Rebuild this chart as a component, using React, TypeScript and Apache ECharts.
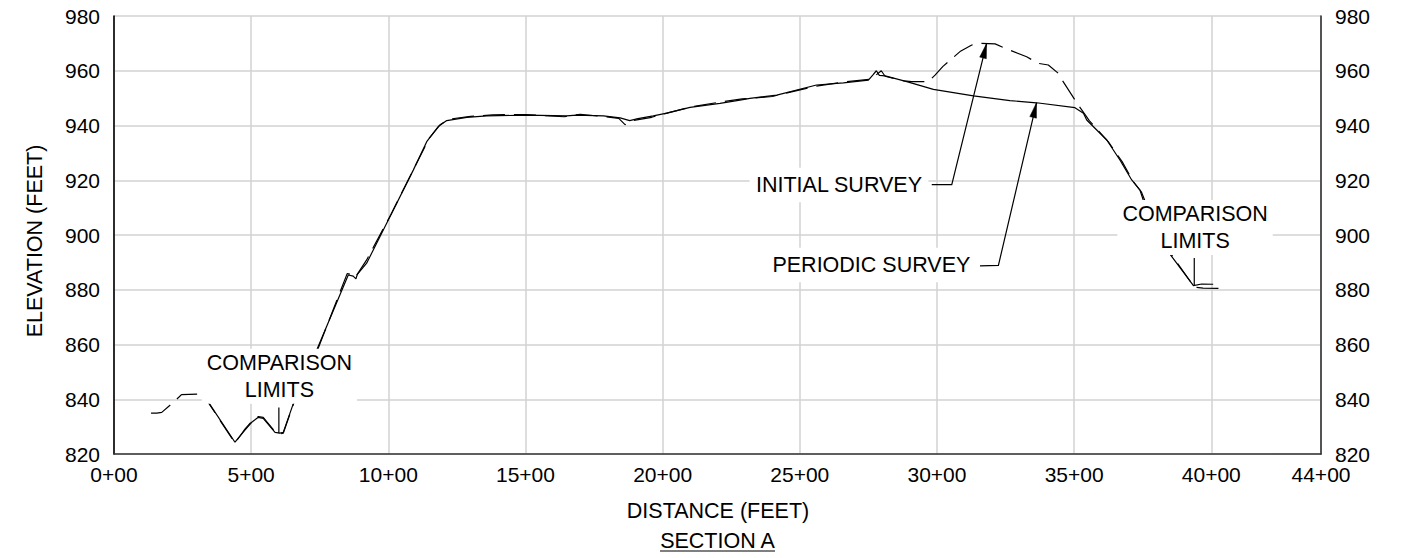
import React, { useEffect, useRef } from "react";
import * as echarts from "echarts";

const FONT = '"Liberation Sans", Arial, Helvetica, sans-serif';

// Axis ranges (feet)
const X_MIN = 0;
const X_MAX = 4400;
const X_STEP = 500;
const Y_MIN = 820;
const Y_MAX = 980;
const Y_STEP = 20;

// INITIAL SURVEY (dashed) – station (ft), elevation (ft)
const initialX = [
  135, 156, 174, 202, 238, 246, 314, 320, 347, 441, 478, 502, 526, 544, 587, 605, 617, 654,
  739, 850, 868, 880, 921, 1010, 1100, 1150, 1190, 1220, 1300, 1380, 1500, 1640, 1700, 1790,
  1840, 1863, 1893, 1960, 2030, 2110, 2200, 2290, 2400, 2550, 2660, 2760, 2797, 2811, 2880,
  2908, 2968, 2993, 3021, 3084, 3127, 3157, 3212, 3248, 3327, 3369, 3406, 3442, 3460, 3515,
  3540, 3556, 3625, 3675, 3715, 3745, 3760, 3850, 3938, 3970, 4044,
];
const initialY = [
  834.9, 834.9, 835.2, 837.6, 840.9, 841.7, 841.9, 842.8, 838.3, 824.0, 829.2, 831.9, 833.7,
  833.4, 828.2, 827.3, 827.6, 838.2, 857.2, 885.9, 885.6, 884.6, 890.9, 907.6, 925.6, 935.5,
  940.4, 942.3, 943.3, 943.9, 944.0, 943.2, 944.1, 943.2, 942.6, 940.3, 941.8, 943.0, 944.9,
  946.9, 948.4, 949.7, 950.6, 954.2, 955.9, 956.9, 960.0, 958.0, 956.3, 956.0, 956.0, 958.4,
  961.5, 967.0, 969.4, 970.0, 969.8, 968.2, 965.1, 962.7, 962.1, 959.1, 956.0, 947.5, 944.0,
  941.7, 934.0, 926.8, 919.6, 915.8, 912.0, 893.5, 881.0, 880.6, 880.5,
];

// PERIODIC SURVEY (solid)
const periodicX = [
  347, 441, 478, 502, 526, 544, 587, 605, 617, 654, 739, 854, 872, 882, 887, 921, 1000, 1091,
  1140, 1182, 1213, 1286, 1359, 1504, 1650, 1686, 1784, 1845, 1880, 1910, 1966, 2015, 2100,
  2209, 2282, 2318, 2416, 2561, 2659, 2750, 2766, 2779, 2790, 2811, 2890, 2987, 3133, 3266,
  3363, 3503, 3534, 3546, 3619, 3667, 3710, 3740, 3752, 3850, 3935, 3965, 4007,
];
const periodicY = [
  838.5, 824.3, 828.8, 831.6, 833.4, 833.0, 827.9, 827.6, 827.9, 838.5, 858.0, 885.4, 885.0,
  884.0, 885.6, 889.7, 905.5, 923.7, 934.1, 939.6, 941.8, 943.0, 943.5, 943.8, 943.5, 943.8,
  943.5, 942.8, 941.8, 942.5, 943.5, 944.5, 946.6, 948.1, 949.3, 949.9, 951.1, 954.8, 955.6,
  956.6, 958.4, 960.0, 958.3, 958.1, 956.0, 953.2, 950.8, 949.1, 948.3, 946.5, 944.5, 942.0,
  934.7, 927.4, 920.1, 916.4, 912.8, 892.9, 881.5, 882.1, 882.0,
];

// Annotations (data coordinates)
const comparisonLabels = [
  { text: "COMPARISON\nLIMITS", at: [603, 848.4], leader: [[601, 837.0], [601, 827.6]] },
  { text: "COMPARISON\nLIMITS", at: [3941, 902.7], leader: [[3938, 891.6], [3938, 881.4]] },
];
const surveyLabels = [
  { text: "INITIAL SURVEY", at: [2643, 918.3], leader: [[2981, 918.4], [3054, 918.4], [3181, 970.0]] },
  { text: "PERIODIC SURVEY", at: [2761, 889.0], leader: [[3157, 888.7], [3224, 888.9], [3363, 948.3]] },
];

const toPairs = (xs: number[], ys: number[]) => xs.map((x, i) => [x, ys[i]]);

export default function App() {
  const ref = useRef<HTMLDivElement>(null);

  useEffect(() => {
    if (!ref.current) return;
    const chart = echarts.init(ref.current, null, { renderer: "svg" });
    const labelStyle = { color: "#000", fontSize: 21, fontFamily: FONT };
    chart.setOption({
      animation: false,
      backgroundColor: "#fff",
      textStyle: { fontFamily: FONT },
      grid: { left: 114, right: 80, top: 16, bottom: 104, containLabel: false, outerBoundsMode: "none" },
      xAxis: {
        type: "value",
        min: X_MIN,
        max: X_MAX,
        interval: X_STEP,
        axisLine: { show: true, lineStyle: { color: "#333", width: 1.6 } },
        axisTick: { show: false },
        axisLabel: { ...labelStyle, margin: 10, formatter: (v: number) => `${Math.round(v / 100)}+00` },
        splitLine: { show: true, lineStyle: { color: "#d2d2d2", width: 1.5 } },
      },
      yAxis: [
        {
          type: "value",
          min: Y_MIN,
          max: Y_MAX,
          interval: Y_STEP,
          position: "left",
          axisLine: { show: true, lineStyle: { color: "#000", width: 1.6 } },
          axisTick: { show: false },
          axisLabel: { ...labelStyle, margin: 14 },
          splitLine: { show: true, lineStyle: { color: "#d2d2d2", width: 1.5 } },
        },
        {
          type: "value",
          min: Y_MIN,
          max: Y_MAX,
          interval: Y_STEP,
          position: "right",
          axisLine: { show: true, lineStyle: { color: "#333", width: 1.6 } },
          axisTick: { show: false },
          axisLabel: { ...labelStyle, margin: 14 },
          splitLine: { show: false },
        },
      ],
      series: [
        {
          name: "INITIAL SURVEY",
          type: "line",
          data: toPairs(initialX, initialY),
          showSymbol: false,
          symbol: "none",
          lineStyle: { color: "#000", width: 1.2, type: [22, 9] },
          z: 3,
        },
        {
          name: "PERIODIC SURVEY",
          type: "line",
          data: toPairs(periodicX, periodicY),
          showSymbol: false,
          symbol: "none",
          lineStyle: { color: "#000", width: 1.2 },
          z: 3,
        },
      ],
    });

    const px = (d: number[]) => chart.convertToPixel({ seriesIndex: 0 }, d) as number[];
    const graphics: any[] = [];
    const textBase = {
      fill: "#000",
      fontSize: 21.5,
      fontFamily: FONT,
      align: "center",
      textAlign: "center",
      verticalAlign: "middle",
      textVerticalAlign: "middle",
    };

    comparisonLabels.forEach((c) => {
      const p = px(c.at);
      graphics.push({
        type: "text",
        x: p[0],
        y: p[1],
        z: 100,
        style: { ...textBase, text: c.text, lineHeight: 26.5, backgroundColor: "#fff", padding: [1, 5] },
      });
      const a = px(c.leader[0]);
      const b = px(c.leader[1]);
      graphics.push({
        type: "line",
        z: 101,
        shape: { x1: a[0], y1: a[1], x2: b[0], y2: b[1] },
        style: { stroke: "#000", lineWidth: 1.2 },
      });
    });

    surveyLabels.forEach((s) => {
      const p = px(s.at);
      graphics.push({
        type: "text",
        x: p[0],
        y: p[1],
        z: 100,
        style: { ...textBase, text: s.text, lineHeight: 26.5, backgroundColor: "#fff", padding: [4, 6] },
      });
      const pts = s.leader.map(px);
      graphics.push({
        type: "polyline",
        z: 101,
        shape: { points: pts },
        style: { stroke: "#000", lineWidth: 1.2, fill: null },
      });
      const tip = pts[pts.length - 1];
      const prev = pts[pts.length - 2];
      const dx = tip[0] - prev[0];
      const dy = tip[1] - prev[1];
      const len = Math.hypot(dx, dy);
      const ux = dx / len;
      const uy = dy / len;
      const L = 15;
      const W = 3.4;
      const bx = tip[0] - ux * L;
      const by = tip[1] - uy * L;
      graphics.push({
        type: "polygon",
        z: 102,
        shape: {
          points: [
            [tip[0], tip[1]],
            [bx - uy * W, by + ux * W],
            [bx + uy * W, by - ux * W],
          ],
        },
        style: { fill: "#000", stroke: "#000", lineWidth: 0.5 },
      });
    });

    // Axis titles
    graphics.push({
      type: "text",
      x: 35,
      y: 241,
      rotation: Math.PI / 2,
      z: 100,
      style: { ...textBase, text: "ELEVATION (FEET)" },
    });
    graphics.push({
      type: "text",
      x: 718,
      y: 511,
      z: 100,
      style: { ...textBase, text: "DISTANCE (FEET)" },
    });
    graphics.push({
      type: "text",
      x: 717.5,
      y: 540.5,
      z: 100,
      style: { ...textBase, text: "SECTION A" },
    });
    graphics.push({
      type: "line",
      z: 100,
      shape: { x1: 660, y1: 551, x2: 775, y2: 551 },
      style: { stroke: "#000", lineWidth: 1.2 },
    });

    chart.setOption({ graphic: graphics });

    return () => chart.dispose();
  }, []);

  return (
    <div
      ref={ref}
      style={{ position: "absolute", left: 0, top: 0, width: 1401, height: 558, background: "#fff" }}
    />
  );
}
